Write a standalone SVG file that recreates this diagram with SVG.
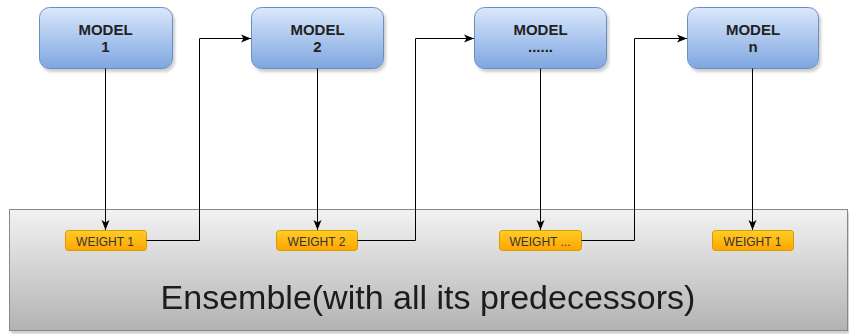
<svg xmlns="http://www.w3.org/2000/svg" width="849" height="334" viewBox="0 0 849 334">
  <defs>
    <linearGradient id="gModel" x1="0" y1="0" x2="0" y2="1">
      <stop offset="0" stop-color="#dae8fc"/>
      <stop offset="1" stop-color="#7ea6e0"/>
    </linearGradient>
    <linearGradient id="gWeight" x1="0" y1="0" x2="0" y2="1">
      <stop offset="0" stop-color="#ffcd28"/>
      <stop offset="1" stop-color="#ffa500"/>
    </linearGradient>
    <linearGradient id="gBase" x1="0" y1="0" x2="0" y2="1">
      <stop offset="0" stop-color="#f2f2f2"/>
      <stop offset="1" stop-color="#b3b3b3"/>
    </linearGradient>
    <filter id="shadow" x="-10%" y="-10%" width="130%" height="130%">
      <feGaussianBlur in="SourceAlpha" stdDeviation="1.5"/>
      <feOffset dx="2" dy="3" result="b"/>
      <feComponentTransfer><feFuncA type="linear" slope="0.2"/></feComponentTransfer>
      <feMerge><feMergeNode/><feMergeNode in="SourceGraphic"/></feMerge>
    </filter>
    <marker id="arrow" viewBox="0 0 10 10" refX="10" refY="5" markerWidth="10" markerHeight="10" markerUnits="userSpaceOnUse" orient="auto">
      <path d="M0,1 L10,5 L0,9 L2.5,5 Z" fill="#000"/>
    </marker>
    <style>
      .model rect { fill: url(#gModel); stroke: #6c8ebf; stroke-width: 1; filter: url(#shadow); }
      .model text { font-family: "Liberation Sans", Arial, sans-serif; font-weight: bold; font-size: 15px; fill: #222; text-anchor: middle; }
      .weight rect { fill: url(#gWeight); stroke: #d79b00; stroke-width: 1; }
      .weight text { font-family: "Liberation Sans", Arial, sans-serif; font-size: 12px; fill: #333; text-anchor: middle; }
      .conn path { fill: none; stroke: #000; stroke-width: 1; marker-end: url(#arrow); }
    </style>
  </defs>

  <rect width="849" height="334" fill="#fff"/>

  <!-- ensemble base panel -->
  <g id="ensemble" filter="url(#shadow)">
    <rect x="9.5" y="209.5" width="838" height="121" fill="url(#gBase)" stroke="#888"/>
    <text x="428" y="309" font-family="Liberation Sans, Arial, sans-serif" font-size="34" fill="#1a1a1a" text-anchor="middle">Ensemble(with all its predecessors)</text>
  </g>

  <!-- models -->
  <g id="model1" class="model">
    <rect x="39.5" y="7.5" width="133" height="61" rx="10"/>
    <text x="105.5" y="34.5">MODEL</text>
    <text x="105.5" y="52">1</text>
  </g>
  <g id="model2" class="model">
    <rect x="251.5" y="7.5" width="132" height="61" rx="10"/>
    <text x="317.5" y="34.5">MODEL</text>
    <text x="317.5" y="52">2</text>
  </g>
  <g id="model3" class="model">
    <rect x="474.5" y="7.5" width="132" height="61" rx="10"/>
    <text x="540.5" y="34.5">MODEL</text>
    <text x="540.5" y="52">......</text>
  </g>
  <g id="modeln" class="model">
    <rect x="687.5" y="7.5" width="131" height="61" rx="10"/>
    <text x="753" y="34.5">MODEL</text>
    <text x="753" y="52">n</text>
  </g>

  <!-- weights -->
  <g id="weight1" class="weight">
    <rect x="65.5" y="230.5" width="81" height="20" rx="3"/>
    <text x="105" y="245.5">WEIGHT 1</text>
  </g>
  <g id="weight2" class="weight">
    <rect x="276.5" y="230.5" width="81" height="20" rx="3"/>
    <text x="316.5" y="245.5">WEIGHT 2</text>
  </g>
  <g id="weight3" class="weight">
    <rect x="499.5" y="230.5" width="82" height="20" rx="3"/>
    <text x="540" y="245.5">WEIGHT ...</text>
  </g>
  <g id="weightn" class="weight">
    <rect x="712.5" y="230.5" width="81" height="20" rx="3"/>
    <text x="752.5" y="245.5">WEIGHT 1</text>
  </g>

  <!-- connectors -->
  <g id="connectors" class="conn">
    <path d="M105.5,68.5 V230"/>
    <path d="M146.5,240.5 H199.5 V38.5 H251"/>
    <path d="M317.5,68.5 V230"/>
    <path d="M357.5,240.5 H415.5 V38.5 H474"/>
    <path d="M540.5,68.5 V230"/>
    <path d="M581.5,240.5 H634.5 V38.5 H687"/>
    <path d="M752.5,68.5 V230"/>
  </g>
</svg>
